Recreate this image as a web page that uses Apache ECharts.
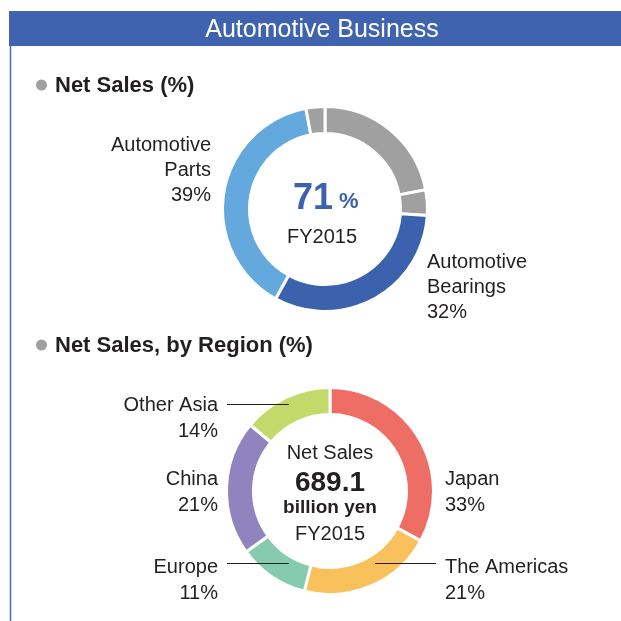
<!DOCTYPE html>
<html>
<head>
	<meta charset="utf-8">
	<title>Automotive Business</title>
	<script src="https://cdn.jsdelivr.net/npm/echarts@6/dist/echarts.min.js"></script>
	<style>
		html, body { margin: 0; padding: 0; background: #fff; }
		#main { width: 621px; height: 621px; }
	</style>
</head>
<body>
<div id="main"></div>
<script>
	// net sales split (%), clockwise from 12 o'clock; grey pieces are the non-automotive businesses
	var salesNames = ['Other Business 1', 'Other Business 2', 'Automotive Bearings', 'Automotive Parts', 'Other Business 3'];
	var salesValues = [22, 4, 32, 39, 3];
	var salesColors = ['#a0a0a0', '#a0a0a0', '#3c62ad', '#63a9dd', '#a0a0a0'];
	var salesLabeled = [false, false, true, true, false];
	var salesTotal = 71;

	// net sales by region (%)
	var regionNames = ['Japan', 'The Americas', 'Europe', 'China', 'Other Asia'];
	var regionValues = [33, 21, 11, 21, 14];
	var regionColors = ['#ee6e66', '#f8c15b', '#84cbb0', '#8f84bd', '#c3d96a'];
	var regionTotal = '689.1';
	var fiscalYear = 'FY2015';

	var textColor = '#231f20';
	var font = '"Liberation Sans", Arial, Helvetica, sans-serif';

	// label anchors [x, y, align]
	var salesLabelPos = [null, null, [427, 287, 'left'], [211, 170, 'right'], null];
	var regionLabelPos = [[445, 492, 'left'], [445, 580, 'left'], [218, 580, 'right'], [218, 492, 'right'], [218, 418, 'right']];

	var myChart = echarts.init(document.getElementById('main'), null, {renderer: 'canvas'});

	var salesData = salesNames.map(function (n, i) {
		return {
			name: n,
			value: salesValues[i],
			itemStyle: {color: salesColors[i]},
			label: {show: salesLabeled[i]}
		};
	});
	var regionData = regionNames.map(function (n, i) {
		return {name: n, value: regionValues[i], itemStyle: {color: regionColors[i]}};
	});

	function leader(x1, x2, y) {
		return {
			type: 'line', z: 100,
			shape: {x1: x1, y1: y, x2: x2, y2: y},
			style: {stroke: textColor, lineWidth: 1}
		};
	}

	function txt(x, y, text, size, weight, color, align) {
		return {
			type: 'text', z: 100, x: x, y: y,
			style: {
				text: text, fill: color || textColor, font: (weight || 'normal') + ' ' + size + 'px ' + font,
				align: align || 'center', verticalAlign: 'middle'
			}
		};
	}

	var option = {
		animation: false,
		textStyle: {fontFamily: font},
		graphic: [
			// header bar + left border
			{type: 'rect', shape: {x: 9, y: 11, width: 612, height: 35}, style: {fill: '#3f63ae'}},
			{type: 'line', shape: {x1: 10.5, y1: 46, x2: 10.5, y2: 621}, style: {stroke: '#4a6cb5', lineWidth: 1.5}},
			txt(322, 30, 'Automotive Business', 25, 'normal', '#ffffff'),

			// section titles
			{type: 'circle', shape: {cx: 41.5, cy: 85, r: 5.5}, style: {fill: '#a0a0a0'}},
			txt(55, 86, 'Net Sales (%)', 22, 'bold', textColor, 'left'),
			{type: 'circle', shape: {cx: 41.5, cy: 345, r: 5.5}, style: {fill: '#a0a0a0'}},
			txt(55, 346, 'Net Sales, by Region (%)', 22, 'bold', textColor, 'left'),

			// centre of top donut
			txt(333, 199, String(salesTotal), 36, 'bold', '#3c62ad', 'right'),
			txt(339, 202, '%', 22, 'bold', '#3c62ad', 'left'),
			txt(322, 237, fiscalYear, 20),

			// centre of region donut
			txt(330, 453, 'Net Sales', 20),
			txt(330, 483, regionTotal, 28, 'bold'),
			txt(330, 508, 'billion yen', 19, 'bold'),
			txt(330, 534, fiscalYear, 20),

			// leader lines
			leader(227, 289, 404.5),
			leader(227, 289, 563.5),
			leader(375, 436, 563.5)
		],
		series: [
			{
				type: 'pie',
				center: [325, 209],
				radius: [75.5, 102.5],
				startAngle: 90,
				clockwise: true,
				silent: true,
				itemStyle: {borderColor: '#fff', borderWidth: 3},
				label: {
					position: 'outside',
					color: textColor,
					fontSize: 20,
					lineHeight: 25,
					fontFamily: font,
					formatter: function (p) {
						return p.name.replace(' ', '\n') + '\n' + p.value + '%';
					}
				},
				labelLine: {show: false},
				labelLayout: function (p) {
					var pos = salesLabelPos[p.dataIndex];
					if (!pos) return {};
					return {x: pos[0], y: pos[1], align: pos[2], verticalAlign: 'middle'};
				},
				data: salesData
			},
			{
				type: 'pie',
				center: [330, 491],
				radius: [76.5, 103.5],
				startAngle: 90,
				clockwise: true,
				silent: true,
				itemStyle: {borderColor: '#fff', borderWidth: 3},
				label: {
					position: 'outside',
					color: textColor,
					fontSize: 20,
					lineHeight: 26,
					fontFamily: font,
					formatter: '{b}\n{c}%'
				},
				labelLine: {show: false},
				labelLayout: function (p) {
					var pos = regionLabelPos[p.dataIndex];
					return {x: pos[0], y: pos[1], align: pos[2], verticalAlign: 'middle'};
				},
				data: regionData
			}
		]
	};

	option && myChart.setOption(option);
</script>
</body>
</html>
